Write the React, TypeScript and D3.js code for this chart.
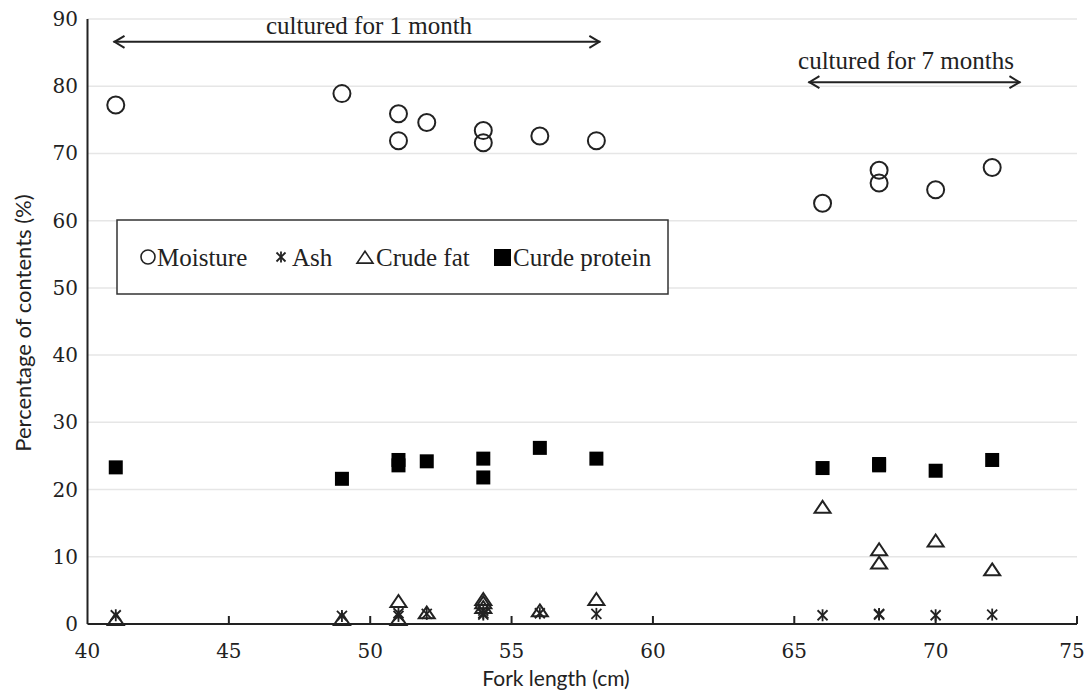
import React from "react";
import * as d3 from "d3";

// fork length (cm) of each sampled fish, and its contents (%)
const moistureX = [41, 49, 51, 51, 52, 54, 54, 56, 58, 66, 68, 68, 70, 72];
const moistureY = [77.2, 78.9, 75.9, 71.9, 74.6, 73.4, 71.6, 72.6, 71.9, 62.6, 67.5, 65.6, 64.6, 67.9];

const ashX = [41, 49, 51, 51, 52, 54, 54, 54, 56, 58, 66, 68, 68, 70, 72];
const ashY = [1.3, 1.2, 1.6, 1.2, 1.5, 1.4, 2.0, 1.6, 1.6, 1.5, 1.3, 1.4, 1.5, 1.3, 1.4];

const fatX = [41, 49, 51, 51, 52, 54, 54, 54, 56, 58, 66, 68, 68, 70, 72];
const fatY = [0.6, 0.6, 3.3, 0.6, 1.6, 3.6, 3.1, 2.4, 1.9, 3.6, 17.3, 11.0, 9.0, 12.3, 8.0];

const proteinX = [41, 49, 51, 51, 52, 54, 54, 56, 58, 66, 68, 68, 70, 72];
const proteinY = [23.3, 21.6, 24.4, 23.6, 24.2, 24.6, 21.8, 26.2, 24.6, 23.2, 23.6, 23.8, 22.8, 24.4];

const xTicks = [40, 45, 50, 55, 60, 65, 70, 75];
const yTicks = [0, 10, 20, 30, 40, 50, 60, 70, 80, 90];

const legendItems = ["Moisture", "Ash", "Crude fat", "Curde protein"];

const W = 1092, H = 693;
const ink = "#222";

function Star({ cx, cy, s }: { cx: number; cy: number; s: number }) {
  return (
    <g stroke={ink} strokeWidth={1.8}>
      <line x1={cx - s} y1={cy - s} x2={cx + s} y2={cy + s} />
      <line x1={cx - s} y1={cy + s} x2={cx + s} y2={cy - s} />
      <line x1={cx} y1={cy - s - 1} x2={cx} y2={cy + s + 1} />
    </g>
  );
}

function Tri({ cx, cy, s, w = 2 }: { cx: number; cy: number; s: number; w?: number }) {
  const h = s * 0.85;
  return (
    <path
      d={`M${cx},${cy - h} L${cx + s},${cy + h * 0.75} L${cx - s},${cy + h * 0.75} Z`}
      fill="none"
      stroke={ink}
      strokeWidth={w}
    />
  );
}

export default function App() {
  const x = d3.scaleLinear().domain([40, 75]).range([87.5, 1077]);
  const y = d3.scaleLinear().domain([0, 90]).range([624, 19]);

  const serif = "'Liberation Serif', 'Times New Roman', serif";
  const tickFont = "'DejaVu Serif', serif";
  const sans = "Lato, 'Open Sans', sans-serif";

  const arrow = (x1: number, x2: number, yy: number) => {
    const a = x(x1), b = x(x2), c = y(yy);
    return (
      <g stroke={ink} strokeWidth={2} fill="none">
        <line x1={a} y1={c} x2={b} y2={c} />
        <path d={`M${a + 11},${c - 6} L${a + 1},${c} L${a + 11},${c + 6}`} />
        <path d={`M${b - 11},${c - 6} L${b - 1},${c} L${b - 11},${c + 6}`} />
      </g>
    );
  };

  return (
    <svg width={W} height={H} style={{ position: "absolute", left: 0, top: 0, background: "#fff" }}>
      {/* gridlines */}
      {yTicks.filter((t) => t > 0).map((t) => (
        <line key={t} x1={x(40)} x2={x(75)} y1={y(t)} y2={y(t)} stroke="#e6e6e6" strokeWidth={1.5} />
      ))}

      {/* axes */}
      <line x1={x(40)} x2={x(40)} y1={y(90)} y2={y(0)} stroke={ink} strokeWidth={2} />
      <line x1={x(40)} x2={x(75)} y1={y(0)} y2={y(0)} stroke={ink} strokeWidth={2} />
      {xTicks.slice(1).map((t) => (
        <line key={t} x1={x(t)} x2={x(t)} y1={y(0)} y2={y(0) - 8} stroke={ink} strokeWidth={2} />
      ))}
      {xTicks.map((t) => (
        <text key={t} x={t === 75 ? x(t) - 5 : x(t)} y={658} fontSize={20} fontFamily={tickFont} textAnchor="middle" fill={ink}>
          {t}
        </text>
      ))}
      {yTicks.map((t) => (
        <text key={t} x={78} y={y(t) + 7} fontSize={20} fontFamily={tickFont} textAnchor="end" fill={ink}>
          {t}
        </text>
      ))}
      <text x={556} y={686} fontSize={21} fontFamily={sans} textAnchor="middle" fill={ink}>
        Fork length (cm)
      </text>
      <text
        transform={`translate(31,323) rotate(-90)`}
        fontSize={22}
        fontFamily={sans}
        textAnchor="middle"
        fill={ink}
      >
        Percentage of contents (%)
      </text>

      {/* annotations */}
      {arrow(40.92, 58.14, 86.6)}
      <text x={369} y={34} fontSize={25} fontFamily={serif} textAnchor="middle" fill={ink}>
        cultured for 1 month
      </text>
      {arrow(65.5, 73.0, 80.6)}
      <text x={906} y={69} fontSize={25} fontFamily={serif} textAnchor="middle" fill={ink}>
        cultured for 7 months
      </text>

      {/* crude protein */}
      {proteinX.map((d, i) => (
        <rect key={i} x={x(d) - 7} y={y(proteinY[i]) - 7} width={14} height={14} fill="#000" />
      ))}
      {/* ash */}
      {ashX.map((d, i) => (
        <Star key={i} cx={x(d)} cy={y(ashY[i])} s={5} />
      ))}
      {/* crude fat */}
      {fatX.map((d, i) => (
        <Tri key={i} cx={x(d)} cy={y(fatY[i])} s={8} />
      ))}
      {/* moisture */}
      {moistureX.map((d, i) => (
        <circle key={i} cx={x(d)} cy={y(moistureY[i])} r={8.5} fill="none" stroke={ink} strokeWidth={2} />
      ))}

      {/* legend */}
      <g>
        <rect x={117} y={220} width={551} height={74} fill="#fff" stroke="#333" strokeWidth={1.5} />
        <circle cx={148} cy={257} r={7} fill="none" stroke={ink} strokeWidth={1.6} />
        <text x={157} y={266} fontSize={25} fontFamily={serif} fill={ink}>{legendItems[0]}</text>
        <Star cx={281} cy={257} s={4.5} />
        <text x={292} y={266} fontSize={25} fontFamily={serif} fill={ink}>{legendItems[1]}</text>
        <Tri cx={365} cy={258} s={8} w={1.6} />
        <text x={376} y={266} fontSize={25} fontFamily={serif} fill={ink}>{legendItems[2]}</text>
        <rect x={494} y={249} width={17} height={17} fill="#000" />
        <text x={513} y={266} fontSize={25} fontFamily={serif} fill={ink}>{legendItems[3]}</text>
      </g>
    </svg>
  );
}
